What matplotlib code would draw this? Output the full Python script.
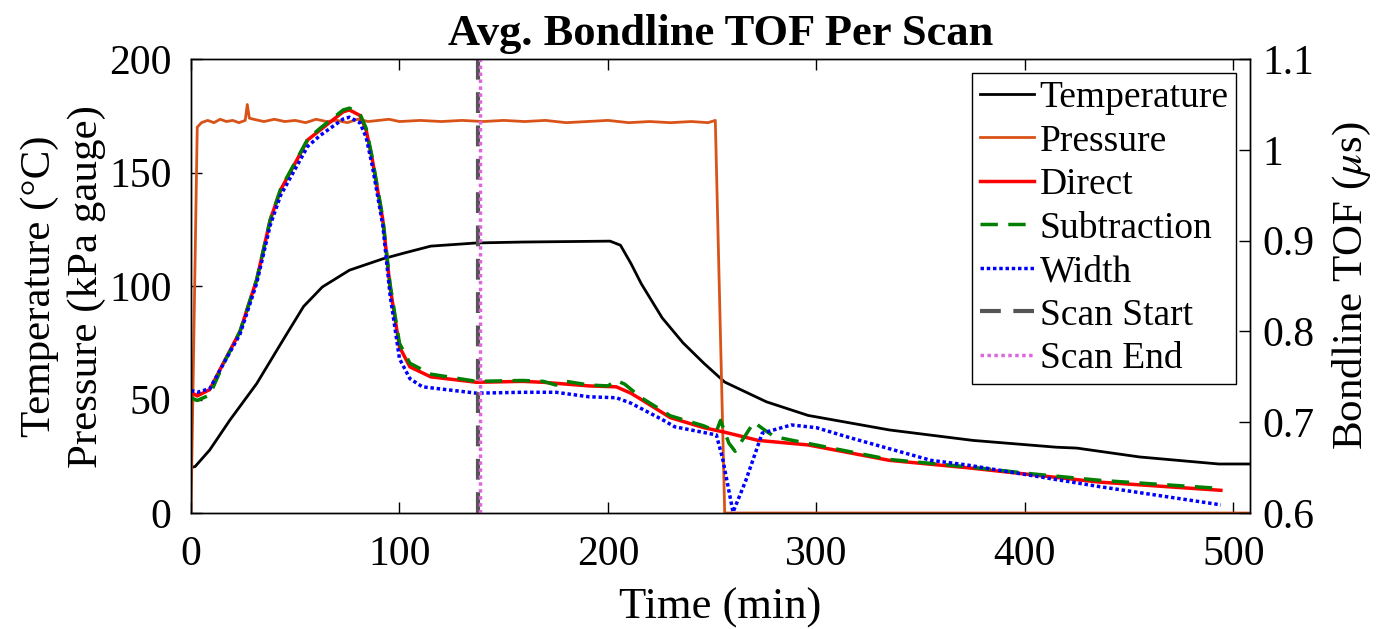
import matplotlib
matplotlib.use('Agg')
import matplotlib.pyplot as plt

plt.rcParams['font.family'] = ['Liberation Serif', 'DejaVu Serif']
plt.rcParams['mathtext.fontset'] = 'stix'

# temperature (deg C) vs time (min)
temp_t = [0, 2, 9, 18.7, 31.5, 44, 54, 63, 76, 92, 102, 115, 137, 159, 180, 201, 206,
          211, 216, 226, 236, 246, 256, 276, 296, 335, 375, 415, 425, 455, 493, 508]
temp_v = [20, 20.5, 27.8, 41, 57, 76, 91, 99.6, 107, 112, 114.5, 117.6, 119, 119.4, 119.6,
          119.8, 118, 110, 101, 86, 75, 66, 57.7, 49, 43, 36.6, 32, 29, 28.6, 24.7, 21.6, 21.6]

# pressure (kPa gauge)
pres_t = [0, 3, 5, 8, 11, 14, 17, 20, 23, 26, 27, 28, 30, 35, 40, 45, 50, 55, 60, 65, 70,
          75, 80, 85, 90, 95, 100, 110, 120, 130, 140, 150, 160, 170, 180, 190, 200, 210,
          220, 230, 240, 248, 251.5, 256, 300, 400, 508]
pres_v = [0, 170, 172, 173, 172, 173.5, 172.5, 173, 172, 173, 180, 174, 173.5, 172.5, 173.5,
          172.5, 173, 172, 173.5, 172.5, 173, 172, 173.5, 172.5, 173, 173.5, 172.5, 173,
          172.5, 173, 172.5, 173, 172.5, 173, 172, 172.5, 173, 172, 172.5, 172, 172.5,
          172, 173, 0, 0, 0, 0]

# bondline TOF (us)
tof_t = [0, 3, 9, 15.5, 23.5, 31.5, 38, 43, 56, 62, 73, 76, 81, 84, 87, 92, 95.5, 100,
         105, 115, 137, 159, 169, 191, 204, 211, 216, 230, 246, 256, 272, 296, 335, 372,
         404, 436, 494]
direct = [0.733, 0.729, 0.736, 0.765, 0.8, 0.857, 0.923, 0.956, 1.011, 1.022, 1.042, 1.044,
          1.038, 1.022, 0.989, 0.923, 0.849, 0.783, 0.761, 0.75, 0.744, 0.745, 0.744, 0.74,
          0.739, 0.732, 0.725, 0.705, 0.694, 0.689, 0.68, 0.675, 0.658, 0.65, 0.642, 0.634,
          0.625]

sub_t = [0, 3, 9, 15.5, 23.5, 31.5, 38, 43, 56, 62, 73, 76, 81, 84, 87, 92, 95.5, 100,
         105, 115, 137, 159, 169, 175, 180, 191, 200, 204, 208, 216, 230, 246, 252, 254,
         258, 261, 270, 276, 280, 293, 335, 372, 404, 436, 494]
subtraction = [0.727, 0.724, 0.73, 0.764, 0.8, 0.857, 0.923, 0.957, 1.012, 1.024, 1.044,
               1.046, 1.04, 1.024, 0.991, 0.925, 0.852, 0.787, 0.765, 0.753, 0.745, 0.746,
               0.745, 0.741, 0.745, 0.741, 0.74, 0.746, 0.742, 0.727, 0.707, 0.696, 0.69,
               0.702, 0.677, 0.668, 0.7, 0.69, 0.684, 0.678, 0.659, 0.651, 0.643, 0.636,
               0.627]

wid_t = [0, 3, 9, 15.5, 23.5, 31.5, 38, 43, 56, 62, 73, 76, 81, 84, 87, 92, 95.5, 100,
         105, 111, 137, 159, 175, 191, 204, 211, 226, 232, 252, 255, 260, 266, 274, 288,
         300, 316, 355, 372, 404, 436, 494]
width = [0.735, 0.733, 0.737, 0.764, 0.797, 0.853, 0.917, 0.95, 1.004, 1.016, 1.034, 1.036,
         1.03, 1.014, 0.982, 0.917, 0.84, 0.77, 0.748, 0.739, 0.732, 0.733, 0.733, 0.728,
         0.727, 0.721, 0.703, 0.695, 0.686, 0.66, 0.601, 0.635, 0.688, 0.697, 0.694, 0.683,
         0.658, 0.653, 0.641, 0.629, 0.609]

scan_start = 137.5
scan_end = 138.5

fig = plt.figure(figsize=(13.79, 6.29), dpi=100)
ax = fig.add_axes([0.1385, 0.1844, 0.768, 0.7216])
ax2 = ax.twinx()

l1, = ax.plot(temp_t, temp_v, color='black', lw=2, label='Temperature')
l2, = ax.plot(pres_t, pres_v, color='#D95319', lw=2, label='Pressure')

l3, = ax2.plot(tof_t, direct, color='#FF0000', lw=2.5, label='Direct')
l4, = ax2.plot(sub_t, subtraction, color='#007F00', lw=2.5, ls=(0, (5, 3)), label='Subtraction')
l5, = ax2.plot(wid_t, width, color='#0000FF', lw=2.5, ls=(0, (1, 0.8)), label='Width')
l6 = ax2.axvline(scan_start, color='#555555', lw=3, ls=(0, (5, 3)), label='Scan Start')
l7 = ax2.axvline(scan_end, color='#DD66DD', lw=2.5, ls=(0, (1, 1)), label='Scan End')

ax.set_xlim(0, 508)
ax.set_ylim(0, 200)
ax2.set_ylim(0.6, 1.1)
ax.set_xticks([0, 100, 200, 300, 400, 500])
ax.set_yticks([0, 50, 100, 150, 200])
ax2.set_yticks([0.6, 0.7, 0.8, 0.9, 1.0, 1.1])
ax2.set_yticklabels(['0.6', '0.7', '0.8', '0.9', '1', '1.1'])

ax.tick_params(direction='in', labelsize=30, length=8, top=True, width=1)
ax.tick_params(axis='x', pad=16)
ax.tick_params(axis='y', pad=14)
ax2.tick_params(direction='in', labelsize=30, length=8, width=1, pad=9)
for a in (ax, ax2):
    for s in a.spines.values():
        s.set_linewidth(1)

ax.set_xlabel('Time (min)', fontsize=32, labelpad=10)
ax.set_ylabel('Temperature (°C)\nPressure (kPa gauge)', fontsize=31, labelpad=2, linespacing=1.3)
ax2.set_ylabel('Bondline TOF ($\\mu$s)', fontsize=31, labelpad=12)
ax.set_title('Avg. Bondline TOF Per Scan', fontsize=32, fontweight='bold', pad=10)

leg = ax2.legend(handles=[l1, l2, l3, l4, l5, l6, l7], loc='upper right', fontsize=27,
                 frameon=True, fancybox=False, edgecolor='black', framealpha=1,
                 handlelength=1.45, handletextpad=0.15, labelspacing=0.24,
                 borderpad=0.2, borderaxespad=0.37)
leg.get_frame().set_linewidth(1)

fig.savefig('out.png', dpi=100)
